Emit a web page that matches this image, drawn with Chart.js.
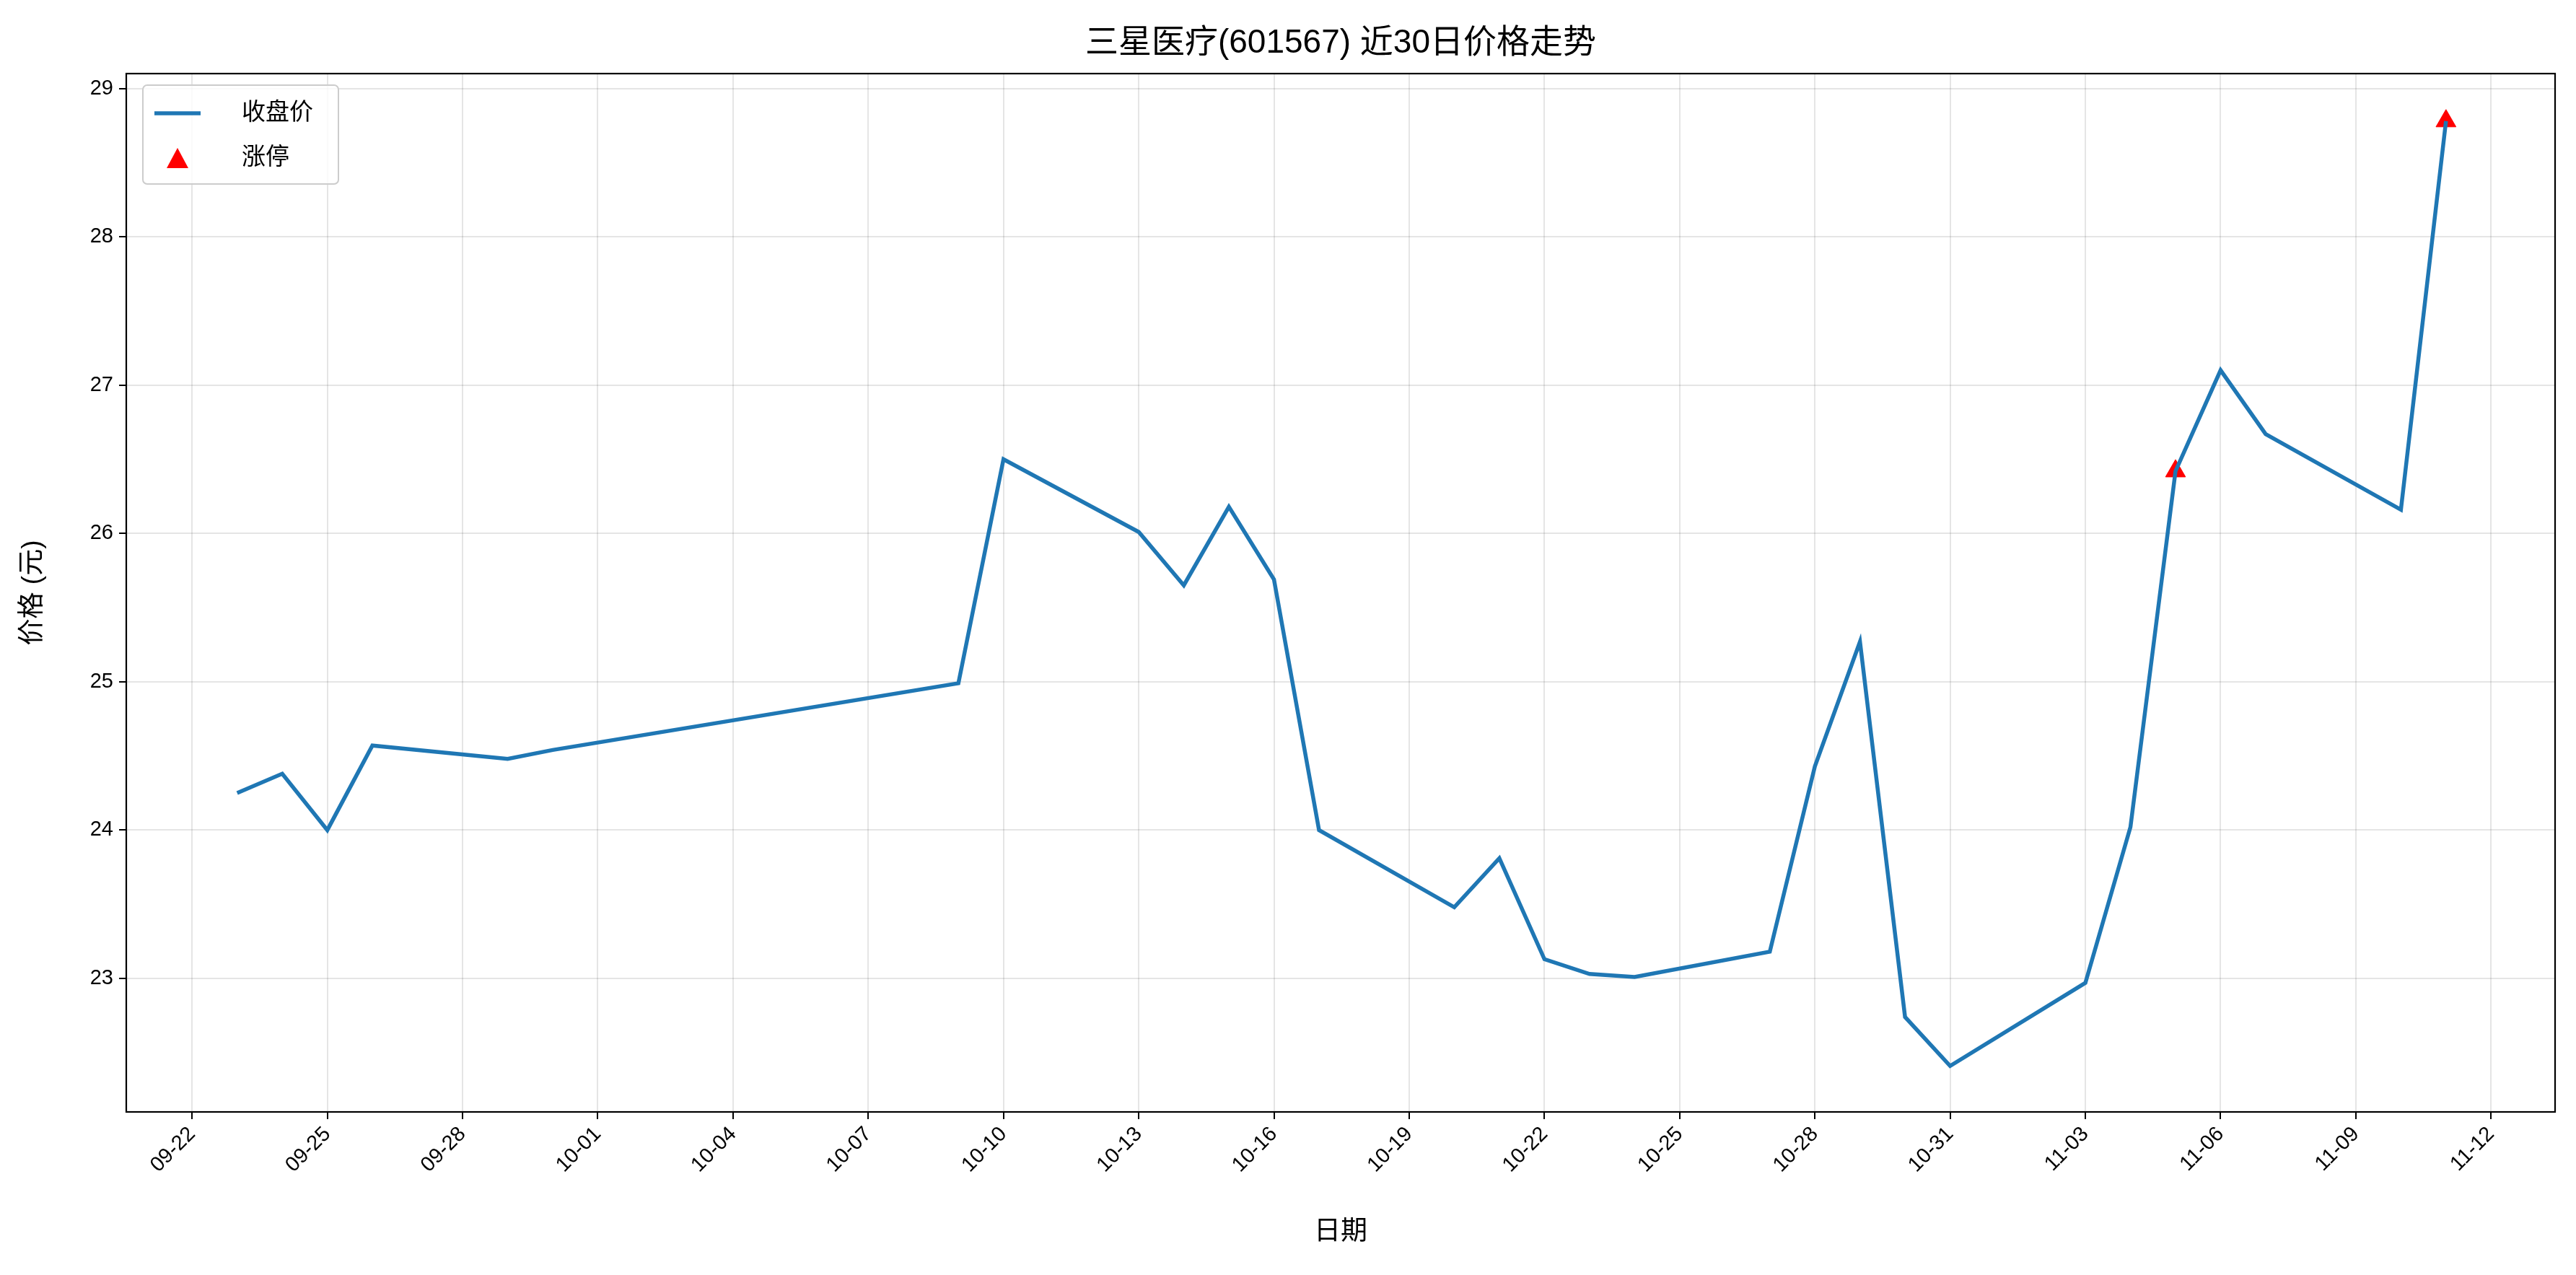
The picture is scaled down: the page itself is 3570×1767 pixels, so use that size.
<!DOCTYPE html>
<html>
<head>
<meta charset="utf-8">
<script src="https://cdn.jsdelivr.net/npm/chart.js@4"></script>
<style>
  body { margin: 0; background: #fff; }
  canvas { display: block; }
</style>
</head>
<body>
<canvas id="c" width="3570" height="1767"></canvas>
<script>
const FONT = "'Liberation Sans', 'Noto Sans CJK SC', sans-serif";
const BLUE = "#1f77b4";

// closing prices, dates as MM-DD (year 2025)
const dates = ["09-23","09-24","09-25","09-26","09-29","09-30","10-09","10-10","10-13","10-14",
  "10-15","10-16","10-17","10-20","10-21","10-22","10-23","10-24","10-27","10-28",
  "10-29","10-30","10-31","11-03","11-04","11-05","11-06","11-07","11-10","11-11"];
const closes = [24.25,24.38,24.00,24.57,24.48,24.54,24.99,26.50,26.01,25.65,
  26.18,25.69,24.00,23.48,23.81,23.13,23.03,23.01,23.18,24.43,
  25.27,22.74,22.41,22.97,24.02,26.42,27.10,26.67,26.16,28.78];
const limitUpDates = ["11-05","11-11"];
const limitUpPrices = [26.42,28.78];
const yTicks = [23,24,25,26,27,28,29];

// day offset from 09-22
const dayOf = (md) => {
  const [m, d] = md.split("-").map(Number);
  return Math.round((Date.UTC(2025, m - 1, d) - Date.UTC(2025, 8, 22)) / 86400000);
};
const labelOf = (n) => {
  const t = new Date(Date.UTC(2025, 8, 22 + n));
  return String(t.getUTCMonth() + 1).padStart(2, "0") + "-" + String(t.getUTCDate()).padStart(2, "0");
};

const frame = {
  id: "frame",
  afterDraw(chart) {
    const { ctx, chartArea: a } = chart;
    ctx.save();
    ctx.strokeStyle = "#000";
    ctx.lineWidth = 2.2;
    ctx.strokeRect(a.left, a.top, a.right - a.left, a.bottom - a.top);
    // title and axis titles
    ctx.fillStyle = "#000";
    ctx.font = "46px " + FONT;
    ctx.textAlign = "center";
    ctx.textBaseline = "middle";
    ctx.fillText("三星医疗(601567) 近30日价格走势", (a.left + a.right) / 2, 60);
    ctx.font = "37px " + FONT;
    ctx.fillText("日期", (a.left + a.right) / 2, 1708);
    ctx.save();
    ctx.translate(46, (a.top + a.bottom) / 2);
    ctx.rotate(-Math.PI / 2);
    ctx.fillText("价格 (元)", 0, 0);
    ctx.restore();
    // legend
    const x0 = a.left + 23, y0 = a.top + 16;
    ctx.fillStyle = "rgba(255,255,255,0.8)";
    ctx.strokeStyle = "#ccc";
    ctx.lineWidth = 2;
    ctx.beginPath();
    ctx.roundRect(x0, y0, 271, 137, 6);
    ctx.fill();
    ctx.stroke();
    ctx.strokeStyle = BLUE;
    ctx.lineWidth = 5.5;
    ctx.beginPath();
    ctx.moveTo(x0 + 16, y0 + 39);
    ctx.lineTo(x0 + 80, y0 + 39);
    ctx.stroke();
    ctx.fillStyle = "red";
    ctx.beginPath();
    const tx = x0 + 48, ty = y0 + 103;
    ctx.moveTo(tx, ty - 16);
    ctx.lineTo(tx + 15, ty + 12);
    ctx.lineTo(tx - 15, ty + 12);
    ctx.closePath();
    ctx.fill();
    ctx.fillStyle = "#000";
    ctx.font = "33px " + FONT;
    ctx.textAlign = "left";
    ctx.fillText("收盘价", x0 + 137, y0 + 39);
    ctx.fillText("涨停", x0 + 137, y0 + 101);
    ctx.restore();
  },
};

new Chart(document.getElementById("c"), {
  type: "line",
  data: {
    datasets: [
      {
        label: "收盘价",
        data: dates.map((d, i) => ({ x: dayOf(d), y: closes[i] })),
        borderColor: BLUE,
        borderWidth: 5.5,
        pointRadius: 0,
        tension: 0,
      },
      {
        label: "涨停",
        type: "scatter",
        data: limitUpDates.map((d, i) => ({ x: dayOf(d), y: limitUpPrices[i] })),
        backgroundColor: "red",
        borderColor: "red",
        pointStyle: "triangle",
        pointRadius: 16,
      },
    ],
  },
  options: {
    responsive: false,
    animation: false,
    layout: { padding: { top: 102, right: 29, left: 0, bottom: 0 } },
    plugins: { legend: { display: false }, tooltip: { enabled: false } },
    scales: {
      x: {
        type: "linear",
        min: -1.46,
        max: 52.42,
        afterBuildTicks: (s) => { s.ticks = []; for (let n = 0; n <= 51; n += 3) s.ticks.push({ value: n }); },
        afterFit: (s) => { s.height = 226; },
        ticks: {
          callback: (v) => labelOf(v),
          minRotation: 45, maxRotation: 45,
          color: "#000",
          font: { size: 29, family: FONT },
          padding: 4,
        },
        grid: { color: "rgba(0,0,0,0.1)", lineWidth: 2, tickLength: 10, tickColor: "#000" },
        border: { display: false },
      },
      y: {
        min: 22.1,
        max: 29.1,
        afterBuildTicks: (s) => { s.ticks = yTicks.map((v) => ({ value: v })); },
        afterFit: (s) => { s.width = 175; },
        ticks: { color: "#000", font: { size: 29, family: FONT }, padding: 8 },
        grid: { color: "rgba(0,0,0,0.1)", lineWidth: 2, tickLength: 10, tickColor: "#000" },
        border: { display: false },
      },
    },
  },
  plugins: [frame],
});
</script>
</body>
</html>
